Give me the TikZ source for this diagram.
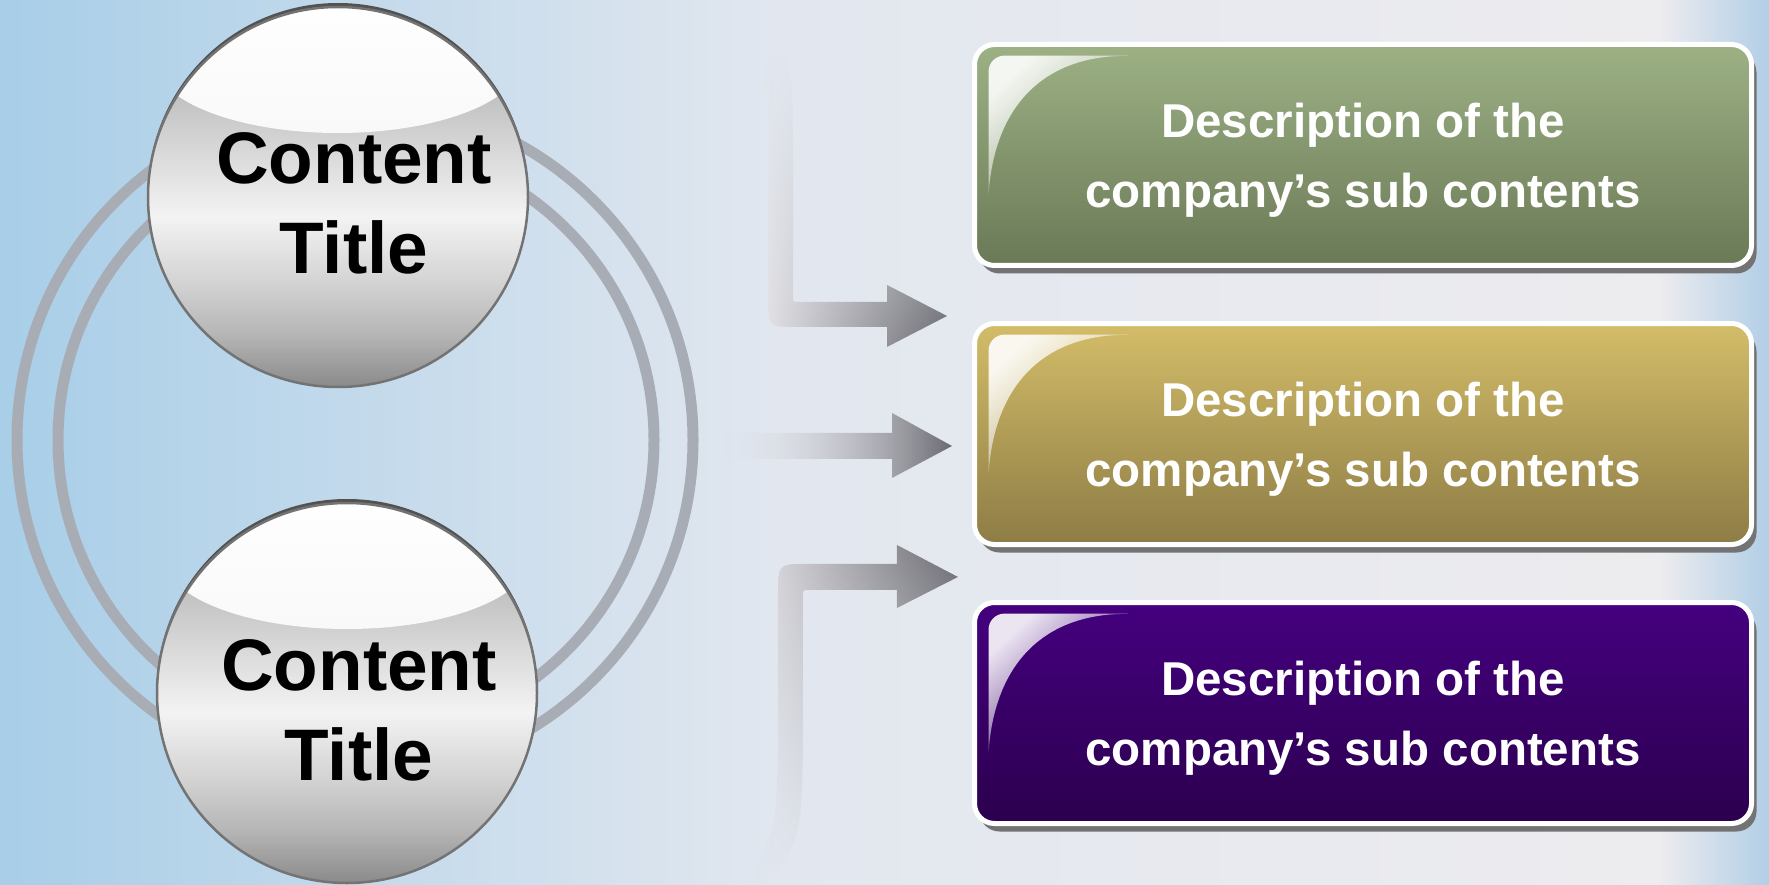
\documentclass[tikz,border=0pt]{standalone}
\usepackage{fontspec}
\setmainfont{Liberation Sans}
\usetikzlibrary{positioning,shadows,fadings}

\definecolor{bgleft}{HTML}{A8CEE8}
\definecolor{bgmid}{HTML}{E2E7EF}
\definecolor{bgright}{HTML}{EDECEF}
\definecolor{bgedge}{HTML}{B2CEE6}
\definecolor{ringgray}{HTML}{A8ADB5}
\definecolor{arrowlight}{HTML}{E6E5E9}
\definecolor{arrowdark}{HTML}{6B6A72}
\definecolor{greentop}{HTML}{9DB185}
\definecolor{greenbot}{HTML}{6A7956}
\definecolor{goldtop}{HTML}{D3BD69}
\definecolor{goldbot}{HTML}{8D7C45}
\definecolor{purpletop}{HTML}{45007F}
\definecolor{purplebot}{HTML}{2B004E}
\definecolor{sTop}{HTML}{9C9C9C}
\definecolor{sMid}{HTML}{D2D2D2}
\definecolor{sHi}{HTML}{F3F3F3}
\definecolor{sLow}{HTML}{D4D4D4}
\definecolor{sDeep}{HTML}{B6B6B6}
\definecolor{sBot}{HTML}{8A8A8A}

\pgfdeclareverticalshading{silver}{100bp}{color(0bp)=(sBot); color(25bp)=(sBot);
  color(32bp)=(sDeep); color(39bp)=(sLow); color(47.5bp)=(sHi); color(58bp)=(sMid);
  color(75bp)=(sTop); color(100bp)=(sTop)}

\tikzfading[name=fadetop, top color=transparent!100, middle color=transparent!50, bottom color=transparent!0]
\tikzfading[name=fadebottom, top color=transparent!0, middle color=transparent!50, bottom color=transparent!100]
\tikzfading[name=fadeleft, left color=transparent!100, middle color=transparent!25, right color=transparent!0]
\tikzfading[name=glossfade, top color=transparent!10, bottom color=transparent!100]

\tikzset{
  ring/.style={draw=ringgray, line width=11pt},
  arrowfill/.style={left color=arrowlight, right color=arrowdark},
  ball/.style={circle, minimum size=380pt, inner sep=0pt, shade, shading=silver,
    draw=black!55, line width=2.5pt,
    drop shadow={shadow xshift=0pt, shadow yshift=4pt, fill=black!68, opacity=1},
    path picture={
      \shade[top color=white, bottom color=gray!13]
        ([yshift=-53pt]path picture bounding box.north) ellipse (184pt and 73pt);
    }},
  ttl/.style={align=center, text=black, font=\bfseries\fontsize{73}{90}\selectfont},
  descbox/.style={rounded corners=20pt, minimum width=777pt, minimum height=221pt,
    top color=#1top, bottom color=#1bot, draw=white, line width=5pt,
    text=white, align=center, text depth=0pt,
    font=\bfseries\fontsize{47.5}{70}\selectfont,
    drop shadow={shadow xshift=5pt, shadow yshift=-8pt, fill=black!55, opacity=1},
    path picture={
      \coordinate (nw) at (path picture bounding box.north west);
      \fill[white, path fading=glossfade, fading angle=45]
        ([shift={(14pt,-150pt)}]nw) [rounded corners=16pt]
        -- ([shift={(14pt,-11pt)}]nw) -- ([shift={(163pt,-11pt)}]nw)
        [sharp corners] .. controls ([shift={(70pt,-13pt)}]nw)
        and ([shift={(20pt,-60pt)}]nw) .. ([shift={(14pt,-150pt)}]nw) -- cycle;
    }},
}

\begin{document}
\begin{tikzpicture}[x=1pt,y=-1pt]
  \useasboundingbox (0,0) rectangle (1769,885);
  % backdrop
  \shade[left color=bgleft, right color=bgmid] (0,0) rectangle (780,885);
  \shade[left color=bgmid, right color=bgright] (780,0) rectangle (1660,885);
  \shade[left color=bgright, right color=bgedge] (1660,0) rectangle (1769,885);
  % rings behind the balls
  \draw[ring] (355,440) circle (338);
  \draw[ring] (356,440) circle (298);
  % arrows
  \shade[arrowfill, path fading=fadetop]
    (760,50) .. controls (768,90) .. (768,160) -- (768,297)
    .. controls (768,327) .. (798,327) -- (887,327) -- (887,347)
    -- (947,316) -- (887,285) -- (887,302) -- (798,302)
    .. controls (793,302) .. (793,297) -- (793,160)
    .. controls (793,90) .. (785,50) -- cycle;
  \shade[arrowfill, path fading=fadeleft]
    (722,433) -- (892,433) -- (892,413) -- (952,446) -- (892,478)
    -- (892,459) -- (722,459) -- cycle;
  \shade[arrowfill, path fading=fadebottom]
    (745,885) .. controls (776,830) .. (778,750) -- (778,594)
    .. controls (778,564) .. (808,564) -- (897,564) -- (897,545)
    -- (958,577) -- (897,608) -- (897,590) -- (808,590)
    .. controls (803,590) .. (803,595) -- (803,750)
    .. controls (801,835) .. (770,885) -- cycle;
  % balls
  \node[ball] (ballA) at (338,197) {};
  \node[ball] (ballB) at (347,693) {};
  \node[ttl] (titleA) at ([xshift=16pt,yshift=-6pt]ballA.center) {Content\\Title};
  \node[ttl] (titleB) at ([xshift=12pt,yshift=-17pt]ballB.center) {Content\\Title};
  % description boxes
  \node[descbox=green] (green) at (1363,155) {Description of the\\company’s sub contents};
  \node[descbox=gold, below=53pt of green] (gold) {Description of the\\company’s sub contents};
  \node[descbox=purple, below=53pt of gold] (purple) {Description of the\\company’s sub contents};
\end{tikzpicture}
\end{document}
